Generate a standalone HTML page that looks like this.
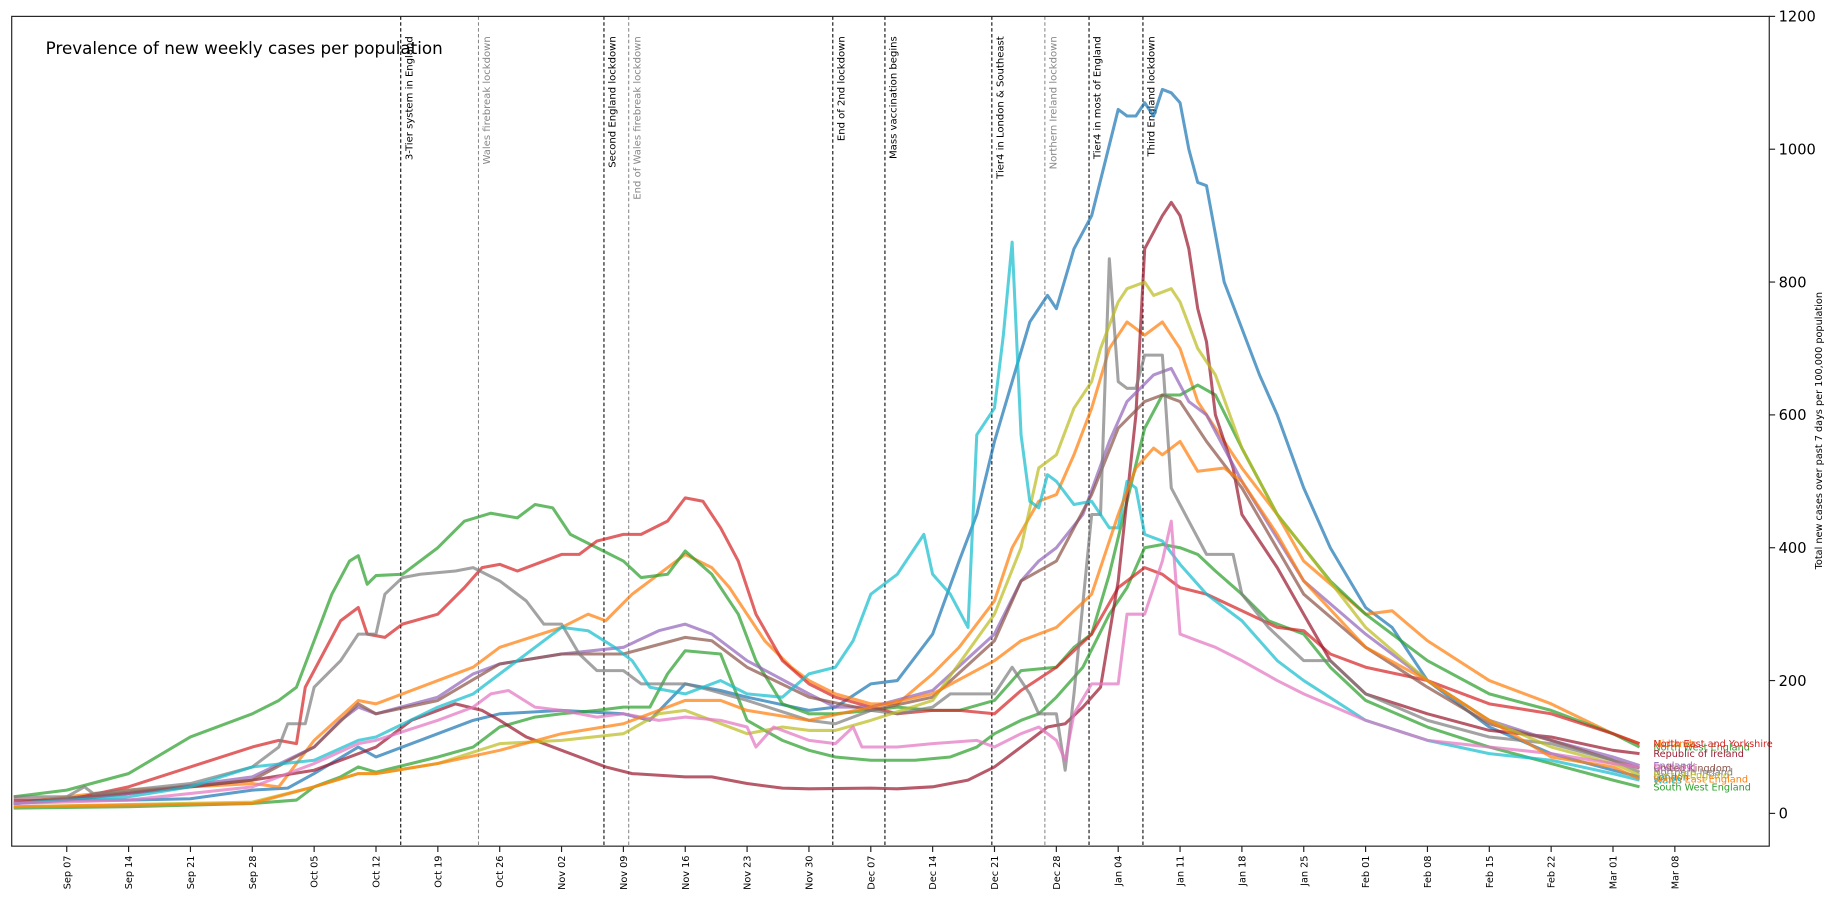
<!DOCTYPE html>
<html><head><meta charset="utf-8"><style>
html,body{margin:0;padding:0;background:#fff;}
svg{display:block;font-family:"DejaVu Sans","Liberation Sans",sans-serif;}
</style></head><body>
<svg id="chart" width="1836" height="900" viewBox="0 0 1568 769" preserveAspectRatio="none" xmlns="http://www.w3.org/2000/svg">
<rect x="0" y="0" width="1568" height="769" fill="#fff"/>
<g id="events"></g>
<g id="series"></g>
<g id="labels"></g>
<rect x="10" y="14" width="1501" height="709" fill="none" stroke="#222" stroke-width="1"/>
<g id="xaxis"></g>
<g id="yaxis"></g>
<text x="39" y="46" font-size="14.3" fill="#000">Prevalence of new weekly cases per population</text>
<text transform="translate(1556,368) rotate(-90)" text-anchor="middle" font-size="8.3" fill="#000">Total new cases over past 7 days per 100,000 population</text>
</svg>
<script>
const xTickLabels = ["Sep 07","Sep 14","Sep 21","Sep 28","Oct 05","Oct 12","Oct 19","Oct 26","Nov 02","Nov 09","Nov 16","Nov 23","Nov 30","Dec 07","Dec 14","Dec 21","Dec 28","Jan 04","Jan 11","Jan 18","Jan 25","Feb 01","Feb 08","Feb 15","Feb 22","Mar 01","Mar 08"];
const yTicks = [0,200,400,600,800,1000,1200];
const eventNames = ["3-Tier system in England","Wales firebreak lockdown","Second England lockdown","End of Wales firebreak lockdown","End of 2nd lockdown","Mass vaccination begins","Tier4 in London & Southeast","Northern Ireland lockdown","Tier4 in most of England","Third England lockdown"];
const eventDays = [37.8,46.6,60.8,63.6,86.7,92.6,104.7,110.7,115.7,121.8];
const eventMinor = [false,true,false,true,false,false,false,true,false,false];

const seriesNames = ["London","Midlands","North West England","South West England","North East and Yorkshire","Republic of Ireland","England","United Kingdom","Northern Ireland","East of England","Wales","Scotland","South East England"];

const londonDates = ["Sep 01","Sep 07","Sep 14","Sep 21","Sep 28","Oct 02","Oct 05","Oct 10","Oct 12","Oct 19","Oct 23","Oct 26","Nov 02","Nov 09","Nov 12","Nov 16","Nov 20","Nov 23","Nov 30","Dec 03","Dec 07","Dec 10","Dec 14","Dec 17","Dec 19","Dec 21","Dec 23","Dec 25","Dec 27","Dec 28","Dec 30","Jan 01","Jan 04","Jan 05","Jan 06","Jan 07","Jan 08","Jan 09","Jan 10","Jan 11","Jan 12","Jan 13","Jan 14","Jan 16","Jan 18","Jan 20","Jan 22","Jan 25","Jan 28","Feb 01","Feb 04","Feb 08","Feb 15","Feb 22","Mar 01","Mar 04"];
const londonValues = [15,20,20,22,35,38,60,100,85,120,140,150,155,150,140,195,185,175,155,160,195,200,270,380,450,560,650,740,780,760,850,900,1060,1050,1050,1070,1050,1090,1085,1070,1000,950,945,800,730,660,600,490,400,310,280,200,130,90,65,55];

const midlandsDates = ["Sep 01","Sep 07","Sep 14","Sep 21","Sep 28","Oct 01","Oct 05","Oct 10","Oct 12","Oct 19","Oct 23","Oct 26","Nov 02","Nov 05","Nov 07","Nov 10","Nov 12","Nov 16","Nov 19","Nov 21","Nov 23","Nov 25","Nov 28","Nov 30","Dec 03","Dec 07","Dec 10","Dec 14","Dec 17","Dec 21","Dec 23","Dec 26","Dec 28","Dec 30","Jan 01","Jan 03","Jan 05","Jan 07","Jan 09","Jan 11","Jan 13","Jan 18","Jan 22","Jan 25","Feb 01","Feb 04","Feb 08","Feb 15","Feb 22","Mar 01","Mar 04"];
const midlandsValues = [15,25,35,40,45,40,110,170,165,200,220,250,280,300,290,330,350,390,370,340,300,260,220,200,180,165,165,210,250,320,400,470,480,540,610,700,740,720,740,700,620,520,450,380,300,305,260,200,165,120,105];

const nwDates = ["Sep 01","Sep 07","Sep 14","Sep 21","Sep 28","Oct 01","Oct 03","Oct 05","Oct 07","Oct 09","Oct 10","Oct 11","Oct 12","Oct 15","Oct 19","Oct 22","Oct 25","Oct 28","Oct 30","Nov 01","Nov 03","Nov 06","Nov 09","Nov 11","Nov 14","Nov 16","Nov 19","Nov 22","Nov 24","Nov 27","Nov 30","Dec 03","Dec 07","Dec 10","Dec 14","Dec 17","Dec 21","Dec 24","Dec 28","Dec 30","Jan 01","Jan 03","Jan 05","Jan 07","Jan 09","Jan 11","Jan 13","Jan 15","Jan 18","Jan 22","Jan 25","Jan 28","Feb 01","Feb 08","Feb 15","Feb 22","Mar 01","Mar 04"];
const nwValues = [25,35,60,115,150,170,190,260,330,380,388,345,358,360,400,440,452,445,465,460,420,400,380,355,360,395,360,300,230,165,150,150,155,160,155,155,170,215,220,250,270,360,470,580,630,630,645,630,550,450,400,350,300,230,180,155,120,100];

const swDates = ["Sep 01","Sep 14","Sep 28","Oct 03","Oct 05","Oct 08","Oct 10","Oct 12","Oct 16","Oct 19","Oct 23","Oct 26","Oct 30","Nov 02","Nov 06","Nov 09","Nov 12","Nov 14","Nov 16","Nov 20","Nov 23","Nov 27","Nov 30","Dec 03","Dec 07","Dec 12","Dec 16","Dec 19","Dec 21","Dec 24","Dec 26","Dec 28","Dec 31","Jan 03","Jan 05","Jan 07","Jan 09","Jan 11","Jan 13","Jan 15","Jan 18","Jan 21","Jan 25","Jan 28","Feb 01","Feb 08","Feb 15","Feb 22","Mar 01","Mar 04"];
const swValues = [8,10,15,20,40,55,70,62,75,85,100,130,145,150,155,160,160,210,245,240,140,110,95,85,80,80,85,100,120,140,150,175,220,300,340,400,405,400,390,365,330,290,270,220,170,130,100,75,50,40];

const neDates = ["Sep 01","Sep 07","Sep 14","Sep 21","Sep 28","Oct 01","Oct 03","Oct 04","Oct 06","Oct 08","Oct 10","Oct 11","Oct 13","Oct 15","Oct 19","Oct 22","Oct 24","Oct 26","Oct 28","Nov 02","Nov 04","Nov 06","Nov 09","Nov 11","Nov 14","Nov 16","Nov 18","Nov 20","Nov 22","Nov 24","Nov 27","Nov 30","Dec 03","Dec 07","Dec 10","Dec 14","Dec 17","Dec 21","Dec 24","Dec 28","Jan 01","Jan 04","Jan 07","Jan 09","Jan 11","Jan 14","Jan 18","Jan 22","Jan 25","Jan 28","Feb 01","Feb 08","Feb 15","Feb 22","Mar 01","Mar 04"];
const neValues = [15,20,40,70,100,110,105,190,240,290,310,270,265,285,300,340,370,375,365,390,390,410,420,420,440,475,470,430,380,300,230,195,175,160,150,155,155,150,185,220,270,340,370,360,340,330,305,280,275,240,220,200,165,150,120,105];

const roiDates = ["Sep 01","Sep 07","Sep 14","Sep 21","Sep 28","Oct 05","Oct 12","Oct 16","Oct 19","Oct 21","Oct 24","Oct 26","Oct 29","Nov 02","Nov 05","Nov 07","Nov 10","Nov 16","Nov 19","Nov 23","Nov 27","Nov 30","Dec 07","Dec 10","Dec 14","Dec 18","Dec 21","Dec 24","Dec 27","Dec 29","Dec 31","Jan 02","Jan 04","Jan 06","Jan 07","Jan 09","Jan 10","Jan 11","Jan 12","Jan 13","Jan 14","Jan 15","Jan 17","Jan 18","Jan 22","Jan 25","Jan 28","Feb 01","Feb 08","Feb 15","Feb 22","Mar 01","Mar 04"];
const roiValues = [20,20,30,40,50,65,100,140,155,165,155,140,115,95,80,70,60,55,55,45,38,37,38,37,40,50,70,100,130,135,160,190,350,600,850,900,920,900,850,760,710,600,520,450,370,300,230,180,150,125,115,95,90];

const englandDates = ["Sep 01","Sep 14","Sep 28","Oct 05","Oct 08","Oct 10","Oct 12","Oct 19","Oct 23","Oct 26","Nov 02","Nov 09","Nov 13","Nov 16","Nov 19","Nov 23","Nov 30","Dec 03","Dec 07","Dec 14","Dec 21","Dec 24","Dec 26","Dec 28","Dec 31","Jan 03","Jan 05","Jan 08","Jan 10","Jan 12","Jan 14","Jan 18","Jan 25","Feb 01","Feb 08","Feb 15","Feb 22","Mar 01","Mar 04"];
const englandValues = [15,30,55,100,140,160,150,175,210,225,240,250,275,285,270,230,180,160,160,185,270,350,380,400,450,560,620,660,670,620,600,500,350,270,200,140,110,85,72];

const ukDates = ["Sep 01","Sep 28","Oct 05","Oct 10","Oct 12","Oct 19","Oct 26","Nov 02","Nov 09","Nov 16","Nov 19","Nov 23","Nov 30","Dec 07","Dec 14","Dec 21","Dec 24","Dec 28","Jan 01","Jan 04","Jan 07","Jan 09","Jan 11","Jan 14","Jan 18","Jan 25","Feb 01","Feb 08","Feb 15","Feb 22","Mar 01","Mar 04"];
const ukValues = [15,50,100,165,150,170,225,240,240,265,260,220,175,155,175,260,350,380,480,580,620,630,620,560,490,330,250,190,135,110,80,68];

const niDates = ["Sep 01","Sep 07","Sep 09","Sep 10","Sep 14","Sep 21","Sep 28","Oct 01","Oct 02","Oct 04","Oct 05","Oct 08","Oct 10","Oct 12","Oct 13","Oct 15","Oct 17","Oct 21","Oct 23","Oct 26","Oct 29","Oct 31","Nov 02","Nov 04","Nov 06","Nov 09","Nov 11","Nov 16","Nov 19","Nov 23","Nov 30","Dec 03","Dec 07","Dec 10","Dec 14","Dec 16","Dec 21","Dec 23","Dec 25","Dec 26","Dec 28","Dec 29","Dec 30","Jan 01","Jan 02","Jan 03","Jan 04","Jan 05","Jan 06","Jan 07","Jan 09","Jan 10","Jan 12","Jan 14","Jan 17","Jan 18","Jan 21","Jan 25","Jan 28","Feb 01","Feb 08","Feb 15","Feb 22","Mar 01","Mar 04"];
const niValues = [25,25,40,30,35,45,70,100,135,135,190,230,270,270,330,355,360,365,370,350,320,285,285,240,215,215,195,195,185,170,140,135,155,150,160,180,180,220,180,150,150,65,180,450,450,835,650,640,640,690,690,490,440,390,390,330,280,230,230,180,140,115,105,80,62];

const eastDates = ["Sep 01","Sep 28","Oct 05","Oct 10","Oct 12","Oct 19","Oct 26","Nov 02","Nov 09","Nov 13","Nov 16","Nov 19","Nov 23","Nov 27","Nov 30","Dec 03","Dec 07","Dec 14","Dec 21","Dec 24","Dec 26","Dec 28","Dec 30","Jan 01","Jan 02","Jan 04","Jan 05","Jan 07","Jan 08","Jan 10","Jan 11","Jan 13","Jan 15","Jan 18","Jan 22","Jan 25","Feb 01","Feb 08","Feb 15","Feb 22","Mar 01","Mar 04"];
const eastValues = [10,17,40,60,60,75,105,110,120,150,155,140,120,130,125,125,140,170,300,400,520,540,610,650,700,770,790,800,780,790,770,700,660,550,450,400,280,200,140,100,75,58];

const walesDates = ["Sep 01","Sep 14","Sep 21","Sep 28","Oct 05","Oct 10","Oct 12","Oct 19","Oct 23","Oct 26","Nov 02","Nov 05","Nov 08","Nov 10","Nov 12","Nov 16","Nov 20","Nov 23","Nov 27","Nov 30","Dec 03","Dec 05","Dec 07","Dec 10","Dec 12","Dec 13","Dec 14","Dec 16","Dec 18","Dec 19","Dec 21","Dec 22","Dec 23","Dec 24","Dec 25","Dec 26","Dec 27","Dec 28","Dec 30","Jan 01","Jan 03","Jan 04","Jan 05","Jan 06","Jan 07","Jan 09","Jan 11","Jan 14","Jan 18","Jan 22","Jan 25","Feb 01","Feb 08","Feb 15","Feb 22","Mar 01","Mar 04"];
const walesValues = [15,25,40,70,80,110,115,160,180,210,280,275,250,230,190,180,200,180,175,210,220,260,330,360,400,420,360,330,280,570,610,720,860,570,470,460,510,500,465,470,430,430,500,490,420,410,375,330,290,230,200,140,110,90,80,60,50];

const scotlandDates = ["Sep 01","Sep 14","Sep 28","Oct 05","Oct 10","Oct 12","Oct 19","Oct 23","Oct 25","Oct 27","Oct 30","Nov 02","Nov 06","Nov 09","Nov 13","Nov 16","Nov 20","Nov 23","Nov 24","Nov 26","Nov 30","Dec 03","Dec 05","Dec 06","Dec 10","Dec 14","Dec 19","Dec 21","Dec 24","Dec 26","Dec 28","Dec 29","Dec 30","Jan 01","Jan 04","Jan 05","Jan 07","Jan 09","Jan 10","Jan 11","Jan 13","Jan 15","Jan 18","Jan 22","Jan 25","Feb 01","Feb 08","Feb 15","Feb 22","Mar 01","Mar 04"];
const scotlandValues = [15,20,40,75,105,110,140,160,180,185,160,155,145,150,140,145,140,130,100,130,110,105,130,100,100,105,110,100,120,130,110,80,150,195,195,300,300,380,440,270,260,250,230,200,180,140,110,100,90,75,70];

const seDates = ["Sep 01","Sep 28","Oct 05","Oct 10","Oct 12","Oct 19","Oct 26","Nov 02","Nov 09","Nov 16","Nov 20","Nov 23","Nov 30","Dec 07","Dec 14","Dec 21","Dec 24","Dec 28","Jan 01","Jan 04","Jan 06","Jan 08","Jan 09","Jan 11","Jan 13","Jan 16","Jan 18","Jan 22","Jan 25","Feb 01","Feb 08","Feb 15","Feb 22","Mar 01","Mar 04"];
const seValues = [10,15,40,60,60,75,95,120,135,170,170,155,140,160,180,230,260,280,330,450,520,550,540,560,515,520,500,420,350,250,200,140,85,70,52];

const seriesDates = [londonDates,midlandsDates,nwDates,swDates,neDates,roiDates,englandDates,ukDates,niDates,eastDates,walesDates,scotlandDates,seDates];
const seriesValues = [londonValues,midlandsValues,nwValues,swValues,neValues,roiValues,englandValues,ukValues,niValues,eastValues,walesValues,scotlandValues,seValues];
const seriesColors = ["#1f77b4","#ff7f0e","#2ca02c","#2ca02c","#d62728","#9b1b30","#9467bd","#8c564b","#7f7f7f","#bcbd22","#17becf","#e377c2","#ff7f0e"];

const NS = "http://www.w3.org/2000/svg";
const monthStart = {Sep:-7, Oct:23, Nov:54, Dec:84, Jan:115, Feb:146, Mar:174};
function dayOf(s){ const p = s.split(" "); return monthStart[p[0]] + parseInt(p[1],10); }
function xScale(d){ return 57 + 7.546*d; }
function yScale(v){ return 695 - v*0.5675; }
function mk(tag, attrs, parent){ const e=document.createElementNS(NS,tag); for(const k in attrs) e.setAttribute(k,attrs[k]); parent.appendChild(e); return e; }

const xg = document.getElementById("xaxis");
xTickLabels.forEach(lbl => {
  const x = xScale(dayOf(lbl));
  const t = mk("line",{x1:x,x2:x,y1:723,y2:728,stroke:"#222","stroke-width":1},xg);
  
  
  const tx = mk("text",{transform:`translate(${x+3},731) rotate(-90)`,"text-anchor":"end","font-size":"8.3",fill:"#000"},xg);
  tx.textContent = lbl;
  
  
});
const yg = document.getElementById("yaxis");
yTicks.forEach(v => {
  const y = yScale(v);
  const t = mk("line",{x1:1511,x2:1516,y1:y,y2:y,stroke:"#222","stroke-width":1},yg);
  
  
  const tx = mk("text",{x:1519,y:y+4.5,"font-size":"12.5",fill:"#000"},yg);
  tx.textContent = String(v);
  
  
});
const eg = document.getElementById("events");
eventNames.forEach((name,i) => {
  const x = xScale(eventDays[i]);
  const col = eventMinor[i] ? "#888" : "#000";
  const l = mk("line",{x1:x,x2:x,y1:14,y2:723,stroke:col,"stroke-width":0.9,"stroke-dasharray":"3,2"},eg);
  
  
  const tx = mk("text",{transform:`translate(${x+10},31) rotate(-90)`,"text-anchor":"end","font-size":"8.6",fill:col},eg);
  tx.textContent = name;
  
  
});
const sg = document.getElementById("series");
const lg = document.getElementById("labels");
seriesNames.forEach((name,i) => {
  const ds = seriesDates[i], vs = seriesValues[i];
  const pts = ds.map((d,j) => xScale(dayOf(d)).toFixed(1)+","+yScale(vs[j]).toFixed(1)).join(" ");
  const pl = mk("polyline",{points:pts,fill:"none",stroke:seriesColors[i],"stroke-width":2.6,"stroke-opacity":0.72,"stroke-linejoin":"round"},sg);
  
  
  const last = vs[vs.length-1];
  const tx = mk("text",{x:1412,y:yScale(last)+3,"font-size":"8.3",fill:seriesColors[i]},lg);
  tx.textContent = name;
  
  
});
</script>
</body></html>
